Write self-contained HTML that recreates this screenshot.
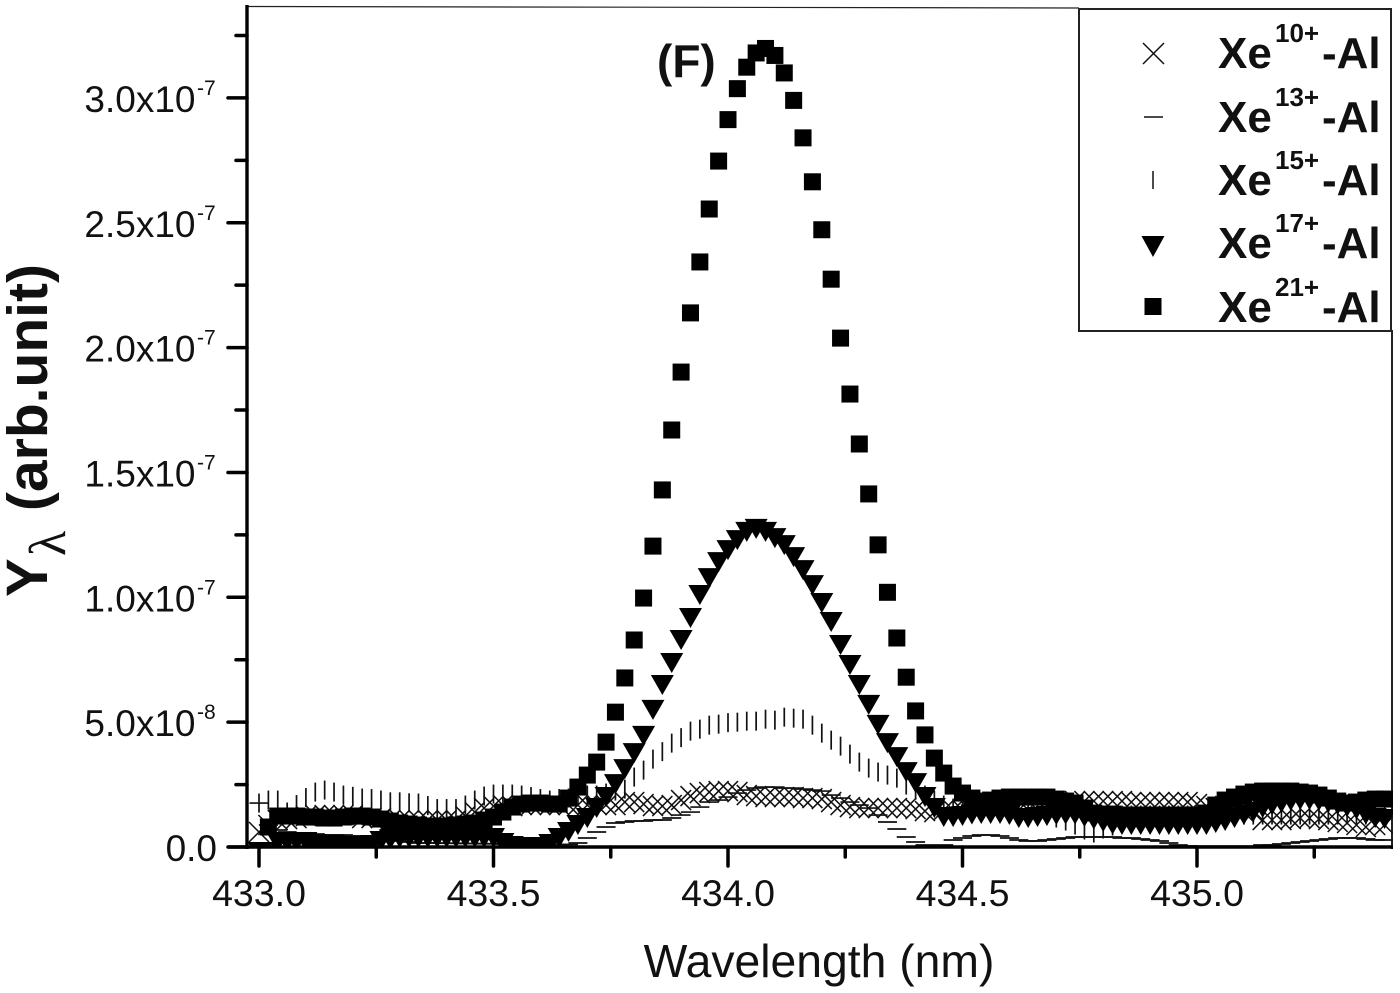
<!DOCTYPE html>
<html lang="en">
<head>
<meta charset="utf-8">
<title>Xe-Al spectrum</title>
<style>
html,body{margin:0;padding:0;background:#fff;}
svg{display:block;}
text{font-family:"Liberation Sans",sans-serif;fill:#111;}
</style>
</head>
<body>
<svg id="chart" xmlns="http://www.w3.org/2000/svg" width="1400" height="993" viewBox="0 0 1400 993">
<defs><clipPath id="plot-clip"><rect x="247" y="6" width="1146" height="842"/></clipPath></defs>
<line x1="247" y1="6.5" x2="1079" y2="8" stroke="#222" stroke-width="1.2"/>
<line x1="1392" y1="330" x2="1392" y2="849" stroke="#222" stroke-width="2"/>
<g id="marks" clip-path="url(#plot-clip)"></g>
<line x1="247" y1="5" x2="247" y2="849" stroke="#000" stroke-width="3.4"/>
<line x1="228" y1="847" x2="1393" y2="847" stroke="#000" stroke-width="3.4"/>
<g id="axes"></g>
<text x="819" y="977" font-size="46.3" text-anchor="middle">Wavelength (nm)</text>
<g transform="translate(47,597) rotate(-90)">
<text x="0" y="0" font-size="58" font-weight="bold">Y</text>
<text x="41" y="18" font-size="52" style="font-family:'Liberation Serif',serif">λ</text>
<text x="86" y="0" font-size="57" font-weight="bold" xml:space="preserve">(arb.unit)</text>
</g>
<text x="657" y="77" font-size="46" font-weight="bold">(F)</text>
<g>
<rect x="1079" y="9" width="312" height="322" fill="#fff" stroke="#222" stroke-width="2"/>
<g>
<path d="M1143 43L1164 64M1164 43L1143 64" stroke="#111" stroke-width="1.5" fill="none"/>
<text x="1218" y="68" font-size="44" font-weight="bold">Xe</text><text x="1275" y="42" font-size="26" font-weight="bold">10+</text><text x="1322" y="68" font-size="44" font-weight="bold">-Al</text>
</g>
<g>
<line x1="1144" y1="117" x2="1163" y2="117" stroke="#111" stroke-width="1.5"/>
<text x="1218" y="132" font-size="44" font-weight="bold">Xe</text><text x="1275" y="106" font-size="26" font-weight="bold">13+</text><text x="1322" y="132" font-size="44" font-weight="bold">-Al</text>
</g>
<g>
<line x1="1153" y1="171" x2="1153" y2="189" stroke="#111" stroke-width="1.5"/>
<text x="1218" y="195" font-size="44" font-weight="bold">Xe</text><text x="1275" y="169" font-size="26" font-weight="bold">15+</text><text x="1322" y="195" font-size="44" font-weight="bold">-Al</text>
</g>
<g>
<path d="M1141.500 236L1164.500 236L1153 257Z" fill="#000"/>
<text x="1218" y="258" font-size="44" font-weight="bold">Xe</text><text x="1275" y="232" font-size="26" font-weight="bold">17+</text><text x="1322" y="258" font-size="44" font-weight="bold">-Al</text>
</g>
<g>
<rect x="1144.500" y="298" width="17" height="17" fill="#000"/>
<text x="1218" y="322" font-size="44" font-weight="bold">Xe</text><text x="1275" y="296" font-size="26" font-weight="bold">21+</text><text x="1322" y="322" font-size="44" font-weight="bold">-Al</text>
</g>
</g>
</svg>
<script>
const wavelengths = [
433.00,433.02,433.04,433.06,433.08,433.10,433.12,433.14,433.16,433.18,
433.20,433.22,433.24,433.26,433.28,433.30,433.32,433.34,433.36,433.38,
433.40,433.42,433.44,433.46,433.48,433.50,433.52,433.54,433.56,433.58,
433.60,433.62,433.64,433.66,433.68,433.70,433.72,433.74,433.76,433.78,
433.80,433.82,433.84,433.86,433.88,433.90,433.92,433.94,433.96,433.98,
434.00,434.02,434.04,434.06,434.08,434.10,434.12,434.14,434.16,434.18,
434.20,434.22,434.24,434.26,434.28,434.30,434.32,434.34,434.36,434.38,
434.40,434.42,434.44,434.46,434.48,434.50,434.52,434.54,434.56,434.58,
434.60,434.62,434.64,434.66,434.68,434.70,434.72,434.74,434.76,434.78,
434.80,434.82,434.84,434.86,434.88,434.90,434.92,434.94,434.96,434.98,
435.00,435.02,435.04,435.06,435.08,435.10,435.12,435.14,435.16,435.18,
435.20,435.22,435.24,435.26,435.28,435.30,435.32,435.34,435.36,435.38,
435.40];
// series values in units of 1e-9
const xe10Values = [
6,8.8,10.8,11.2,11.6,12.4,12.8,12.8,12.8,12.8,
12.8,11.6,11.6,11.6,10.8,10.8,10.8,10.8,10.8,10.8,
10.8,10.8,12.4,14,15.6,16.4,16.8,16.4,16.8,16.8,
16.8,16.8,16.8,16.8,16.8,16.8,16.8,16.8,16.8,18,
18,17.2,16.4,16.4,16.8,18.8,20.4,21.6,22,22.4,
22.4,22,20.8,20.4,20,20,20,20,19.6,19.6,
19.2,18,16.8,16,15.6,15.6,15.6,15.6,15.6,15.6,
15.2,14.4,14,14.8,14.8,14.8,14.8,14.8,14.8,14.8,
14.8,14.8,14.8,14.8,14.8,14.8,14.8,18.4,18.4,18.4,
18.4,18.4,18.4,18,18,18,18,18,18,18,
17.2,16.4,15.6,14,14,14,14,10.8,10.8,10.8,
11.2,11.6,11.6,11.2,10.8,10,9.6,8.8,8,8.8,
8.8];
const xe13Values = [
17.6,8.8,6.8,6,5.6,5.2,5.2,4.8,4.8,4.8,
4.4,4.4,4,3.2,2.8,2.4,2,1.6,1.6,1.6,
1.5,1.5,1.4,1.4,1.3,1.3,1.2,1.2,1.2,1.1,
1.1,1,1,1,1.6,3.6,6,8,9.6,10,
10.4,10.4,10.8,10.8,11.6,12.8,14,16,18,18.8,
20,21.6,22.8,23.6,24,24,23.6,23.6,23.2,22.8,
22.4,20.8,19.6,18,16.8,15.6,12.8,10,7.2,4,
2,0.8,0.4,0.8,2.8,3.6,4.4,4.8,4.8,4.4,
3.6,2.8,2.4,2.4,2.8,3.2,3.6,4,4,4,
4,4,3.6,3.6,3.2,2.8,2.4,1.6,0.8,0.4,
0.3,0.3,0.3,0.3,0.3,0.3,0.3,0.8,0.8,1.2,
1.6,2,2.4,2.8,3.2,3.6,3.6,3.6,3.2,2.8,
2.8];
const xe15Values = [
17.6,18.8,18.8,14,17,19.8,22,22.8,22,20.8,
20.3,19.6,19.4,18.8,18.1,18.1,17.7,17.6,16.6,15.4,
15.4,15.4,16.8,18.8,20.4,21.2,21.2,21.2,20.8,20.2,
19.4,18.8,19.4,19.6,20.4,20.8,20.8,21.6,22.4,23.2,
28,30.8,35.2,38.2,41.6,43.8,46.4,47.2,48.8,49.2,
49.8,50,50.4,50.4,51.2,50.8,52,51.6,51.2,48.8,
45.6,42.8,40.4,37.2,34,31.6,30,28.8,27.6,24.8,
22.8,20.8,18.8,16.8,15.6,14.8,14.8,14.8,14.8,14.8,
14.8,14.8,14.8,14.8,12.8,11.6,10.4,8.8,6.8,5.6,
7.2,8.4,12.8,12.8,12.8,12.8,12.8,12.8,12.8,12.8,
12.8,12.8,12.8,12.8,12.8,12.8,12.8,12.8,12.8,12.8,
12.8,12.8,12.8,12.8,12.8,12.8,12.8,12.8,12.8,12.8,
12.8];
const xe17Values = [
-2,-2,2,2,2,2,1,1,1,0.4,
0.4,0.4,0.8,2.4,3,3.6,3.6,3.6,3.6,3.6,
3.6,3.6,3.6,3.6,3.6,3.6,1.6,0.4,0,0,
0,1.2,3.6,6,8.8,11.6,15.6,20,25.2,31.2,
37.6,44.5,54.9,64.9,73.7,82.9,91.7,100.9,107.7,114.1,
118.9,122.9,126.2,127.4,126.2,123.7,120.9,116.1,110.9,104.9,
97.7,90.1,80.9,72.9,64.9,56.9,48.9,41.6,36,30,
25.6,20,15.6,12,12,12.4,13,13.2,13.2,13.2,
12.8,11.6,11.6,12,12.4,12.8,13,13,12,11,
10,9,8.8,8.8,8.8,8.8,8.8,8.8,8.8,8.8,
8.8,8.8,9.6,10.4,11.6,12.8,14,15.6,16.8,17.6,
18.4,18.8,18.8,18.4,17.6,16.8,16,15,13,11.6,
11.2];
const xe21Values = [
null,8,12.4,12.4,12.4,12,12,11.6,11.6,12,
12.4,12.4,12,11.2,10.4,9.6,9.2,8.8,8.4,8.4,
8.4,8.8,9.2,9.6,10.8,12,14,16,17.2,17.6,
17.6,17.2,17.2,19.6,24,28.8,34,42,54,67.7,
82.9,99.7,120.5,143,167,190.2,213.9,234.3,255.5,274.7,
291.3,303.7,312.3,318,319.8,317,310,299,284,266.4,
247.2,227.4,203.8,181.4,161.4,141.4,121,102,83.7,68,
54.5,44.9,35.6,29.6,24.4,21.6,19.6,18.4,18.8,19.6,
20,20,20,20,20,19.2,18.4,17.6,15.6,13.6,
13.2,13.2,12.8,12.8,12.8,12.8,12.8,12.8,12.8,12.8,
12.8,13.6,16.8,18.8,20,21.2,22,22.4,22.4,22.4,
22.4,22,21.6,20.8,19.6,18.4,17.6,18,18.8,19.2,
19.2];
const xMajorTicks = [433.0,433.5,434.0,434.5,435.0];
const xMinorTicks = [433.25,433.75,434.25,434.75,435.25];
const xTickLabels = ["433.0","433.5","434.0","434.5","435.0"];
const yMajorTicks = [0,50,100,150,200,250,300];
const yMinorTicks = [25,75,125,175,225,275,325];
const yTickMantissas = ["0.0","5.0x10","1.0x10","1.5x10","2.0x10","2.5x10","3.0x10"];
const yTickExponents = ["","-8","-7","-7","-7","-7","-7"];

const NS = "http://www.w3.org/2000/svg";
const xScale = v => 259 + (v - 433) * 469;
const yScale = v => 847 - v * 2.497;
const marks = document.getElementById("marks");
const axes = document.getElementById("axes");

function make(tag, parent, attrs) {
  const el = document.createElementNS(NS, tag);
  for (const k in attrs) el.setAttribute(k, attrs[k]);
  parent.appendChild(el);
  return el;
}

function drawSeries(values, groupName, drawMark) {
  const g = make("g", marks, {});
  
  
  values.forEach((v, i) => {
    if (v === null) return;
    drawMark(g, xScale(wavelengths[i]), yScale(v));
  });
}

drawSeries(xe15Values, "series-xe15", (g, x, y) => {
  const el = make("line", g, {x1: x, x2: x, y1: y - 9.5, y2: y + 9.5, stroke: "#111", "stroke-width": 1.7});
  
  
});
drawSeries(xe10Values, "series-xe10", (g, x, y) => {
  const el = make("path", g, {d: `M${x-10} ${y-10}L${x+10} ${y+10}M${x+10} ${y-10}L${x-10} ${y+10}`, stroke: "#111", "stroke-width": 1.5, fill: "none"});
  
  
});
drawSeries(xe13Values, "series-xe13", (g, x, y) => {
  const el = make("line", g, {x1: x - 9.5, x2: x + 9.5, y1: y, y2: y, stroke: "#111", "stroke-width": 1.7});
  
  
});
drawSeries(xe17Values, "series-xe17", (g, x, y) => {
  const el = make("path", g, {d: `M${x-11.5} ${y-10}L${x+11.5} ${y-10}L${x} ${y+10}Z`, fill: "#000"});
  
  
});
drawSeries(xe21Values, "series-xe21", (g, x, y) => {
  const el = make("rect", g, {x: x - 8.5, y: y - 8.5, width: 17, height: 17, fill: "#000"});
  
  
});

xMajorTicks.forEach((t, i) => {
  const tick = make("line", axes, {x1: xScale(t), x2: xScale(t), y1: 847, y2: 866, stroke: "#000", "stroke-width": 3.5, "stroke-linecap": "round"});
  
  
  const label = make("text", axes, {x: xScale(t), y: 906, "font-size": 37.5, "text-anchor": "middle"});
  label.textContent = xTickLabels[i];
  
  
});
xMinorTicks.forEach(t => {
  const tick = make("line", axes, {x1: xScale(t), x2: xScale(t), y1: 847, y2: 857, stroke: "#000", "stroke-width": 3.5, "stroke-linecap": "round"});
  
  
});
yMajorTicks.forEach((t, i) => {
  const y = yScale(t);
  const tick = make("line", axes, {x1: 228, x2: 247, y1: y, y2: y, stroke: "#000", "stroke-width": 3.5, "stroke-linecap": "round"});
  
  
  const hasExponent = yTickExponents[i] !== "";
  const label = make("text", axes, {x: hasExponent ? 195.5 : 217, y: y + 14, "font-size": 37, "text-anchor": "end"});
  label.textContent = yTickMantissas[i];
  
  
  if (hasExponent) {
    const exponent = make("text", axes, {x: 197, y: y - 3, "font-size": 21});
    exponent.textContent = yTickExponents[i];
    
    
  }
});
yMinorTicks.forEach(t => {
  const y = yScale(t);
  const tick = make("line", axes, {x1: 236, x2: 247, y1: y, y2: y, stroke: "#000", "stroke-width": 3.5, "stroke-linecap": "round"});
  
  
});
</script>
</body>
</html>
